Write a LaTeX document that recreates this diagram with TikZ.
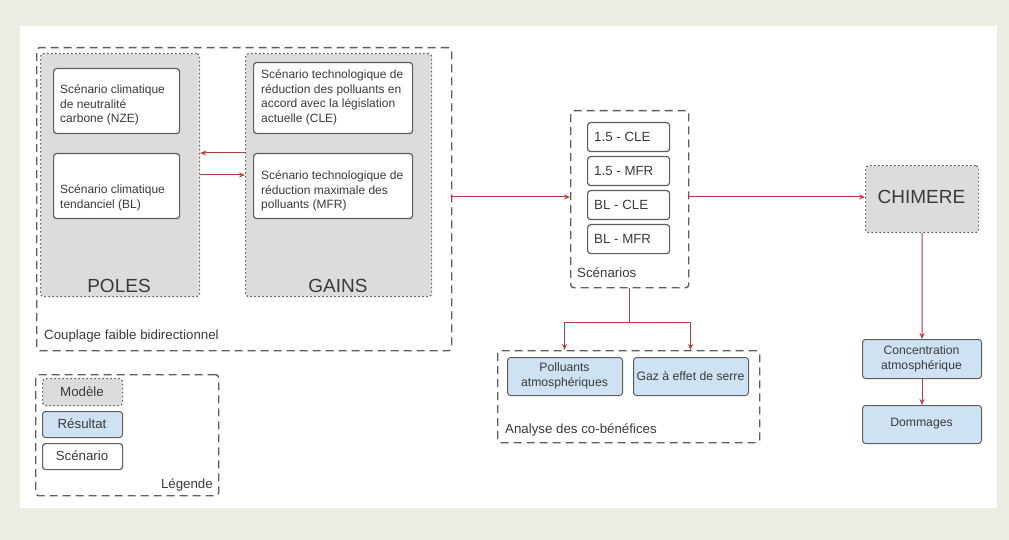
\documentclass[tikz,border=0pt]{standalone}
\usepackage{fontspec}
\setmainfont{Liberation Sans}
\usetikzlibrary{arrows.meta}
\definecolor{bgout}{HTML}{ECECE3}
\definecolor{modelgray}{HTML}{DCDCDC}
\definecolor{resblue}{HTML}{CFE2F3}
\definecolor{edgegray}{HTML}{5E5E5E}
\definecolor{txt}{HTML}{3A3A3A}
\definecolor{arrred}{HTML}{BF3A3E}
\tikzset{
  grp/.style={draw=edgegray, line width=1.4pt, dash pattern=on 8pt off 5pt, rounded corners=3pt},
  model/.style={draw=edgegray, fill=modelgray, line width=1.2pt, dash pattern=on 1.5pt off 2.5pt, rounded corners=3pt},
  scen/.style={draw=edgegray, fill=white, line width=1.2pt, rounded corners=3pt},
  res/.style={draw=edgegray, fill=resblue, line width=1pt, rounded corners=3pt},
  txtl/.style={text=txt, font=\fontsize{12}{14.5}\selectfont, align=left, anchor=west, inner sep=0pt},
  lbl/.style={text=txt, font=\fontsize{13.3}{15}\selectfont, align=left, anchor=west, inner sep=0pt},
  lblc/.style={text=txt, font=\fontsize{13.3}{15}\selectfont, align=center, inner sep=0pt},
  txtc/.style={text=txt, font=\fontsize{12.2}{15}\selectfont, align=center, inner sep=0pt},
  big/.style={text=txt, font=\fontsize{19}{22}\selectfont, inner sep=0pt},
  link/.style={draw=arrred, line width=1pt, -{Stealth[length=6pt,width=5pt]}},
  plain/.style={draw=arrred, line width=1pt}
}
\newcommand{\boxat}[6]{% style, name, x1, y1, x2, y2
  \node[#1, anchor=north west, minimum width=#5pt-#3pt, minimum height=#6pt-#4pt, inner sep=0pt] (#2) at (#3,#4) {};}
\begin{document}
\begin{tikzpicture}[x=1pt,y=-1pt]
\useasboundingbox (0,0) rectangle (1009,540);
\fill[bgout] (0,0) rectangle (1009,540);
\fill[white] (20,26) rectangle (997,508);

% Couplage group
\boxat{grp}{coupl}{36}{47}{451}{350}
\node[lbl] (couplt) at (44,336) {Couplage faible bidirectionnel};

% POLES
\boxat{model}{poles}{40}{53}{199}{296}
\node[big] (polest) at (119,286) {POLES};
\boxat{scen}{nze}{53}{68}{179}{133}
\node[txtl] (nzet) at (60,105) {Scénario climatique\\de neutralité\\carbone (NZE)};
\boxat{scen}{bl}{53}{153}{179}{218}
\node[txtl] (blt) at (60,198) {Scénario climatique\\tendanciel (BL)};

% GAINS
\boxat{model}{gains}{245}{53}{431}{296}
\node[big] (gainst) at (338,286) {GAINS};
\boxat{scen}{cle}{253}{62}{412}{133}
\node[txtl] (clet) at (261,97.5) {Scénario technologique de\\réduction des polluants en\\accord avec la législation\\actuelle (CLE)};
\boxat{scen}{mfr}{253}{153}{412}{218}
\node[txtl] (mfrt) at (261,191) {Scénario technologique de\\réduction maximale des\\polluants (MFR)};

% coupling arrows
\draw[link] (gains.west |- 0,153) -- (poles.east |- 0,153);
\draw[link] (poles.east |- 0,175) -- (gains.west |- 0,175);

% Scenarios group
\boxat{grp}{scgrp}{570}{110}{688}{287}
\node[lbl] (scgrpt) at (577,273) {Scénarios};
\boxat{scen}{s1}{587}{122}{669}{151}
\node[lbl] (s1t) at (594,136.5) {1.5 - CLE};
\boxat{scen}{s2}{587}{156}{669}{185}
\node[lbl] (s2t) at (594,170.5) {1.5 - MFR};
\boxat{scen}{s3}{587}{190}{669}{219}
\node[lbl] (s3t) at (594,204.5) {BL - CLE};
\boxat{scen}{s4}{587}{224}{669}{253}
\node[lbl] (s4t) at (594,238.5) {BL - MFR};

\draw[link] (coupl.east |- 0,197) -- (scgrp.west |- 0,197);

% CHIMERE
\boxat{model}{chim}{865}{165}{978}{232}
\node[big] (chimt) at (921.5,197) {CHIMERE};
\draw[link] (scgrp.east |- 0,197) -- (chim.west |- 0,197);

% Concentration, Dommages
\boxat{res}{conc}{862}{339}{981}{378}
\node[txtc] (conct) at (921.5,358.5) {Concentration\\atmosphérique};
\boxat{res}{domm}{862}{405}{981}{443}
\node[txtc] (dommt) at (921.5,424) {Dommages};
\draw[link] (chim.south) -- (conc.north);
\draw[link] (conc.south) -- (domm.north);

% Analyse group
\boxat{grp}{anal}{497}{350}{759}{442}
\node[lbl] (analt) at (505,430) {Analyse des co-bénéfices};
\boxat{res}{poll}{507}{357}{622}{395}
\node[txtc] (pollt) at (564.5,376) {Polluants\\atmosphériques};
\boxat{res}{gaz}{633}{357}{748}{395}
\node[txtc] (gazt) at (690.5,376) {Gaz à effet de serre};
\coordinate (split) at (629,322);
\coordinate (pa) at (564.5,350);
\coordinate (ga) at (690.5,350);
\draw[plain] (scgrp.south -| split) -- (split);
\draw[link] (split) -| (pa);
\draw[link] (split) -| (ga);

% Legend
\boxat{grp}{leg}{35}{374}{218}{495}
\node[lbl, anchor=east] (legt) at (213,485) {Légende};
\boxat{model}{lmod}{42}{378}{122}{405}
\node[lblc] (lmodt) at (82,391.5) {Modèle};
\boxat{res}{lres}{42}{411}{122}{437}
\node[lblc] (lrest) at (82,424) {Résultat};
\boxat{scen}{lsce}{42}{443}{122}{469}
\node[lblc] (lscet) at (82,456) {Scénario};
\end{tikzpicture}
\end{document}
